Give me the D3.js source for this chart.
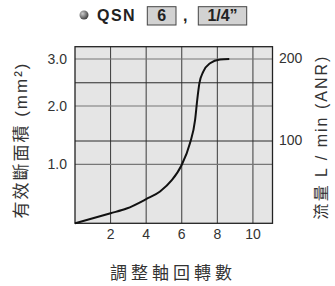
<!DOCTYPE html>
<html>
<head>
<meta charset="utf-8">
<script src="https://cdn.jsdelivr.net/npm/d3@7"></script>
<style>
  body { margin: 0; background: #fff; }
  svg { display: block; font-family: "Liberation Sans", Arial, "Noto Sans CJK TC", sans-serif; }
</style>
</head>
<body>
<div id="chart"></div>
<script>
// turns of the adjusting screw vs effective area (mm2)
var turns = [0, 2.0, 2.9, 4.0, 4.78, 5.44, 5.98, 6.46, 6.75, 6.87, 6.99, 7.21, 7.59, 8.15, 8.67];
var area  = [0, 0.17, 0.25, 0.41, 0.54, 0.73, 0.98, 1.36, 1.76, 2.13, 2.48, 2.73, 2.91, 2.99, 3.0];

var xTicks = [2, 4, 6, 8, 10];
var areaTicks = [1.0, 2.0, 3.0];
var flowTicks = [100, 200];
var flowGrid = [100, 171];

var width = 335, height = 286;

var svg = d3.select("#chart").append("svg")
    .attr("width", width)
    .attr("height", height);

// the original chart is not evenly spaced on the area axis
var x = d3.scaleLinear().domain([0, 11.1]).range([75, 272.5]);
var y = d3.scaleLinear().domain([0, 1, 2, 3, 3.26]).range([223.3, 164.3, 106, 59, 46.7]);
var yFlow = d3.scaleLinear().domain([0, 100, 200]).range([223.3, 141, 59]);

// plot background
svg.append("rect")
    .attr("x", x(0)).attr("y", y(3.26))
    .attr("width", x(11.1) - x(0)).attr("height", y(0) - y(3.26))
    .attr("fill", "#e5e5e5");

// grid
svg.selectAll(".vgrid").data(xTicks).enter().append("line")
    .attr("x1", d => x(d)).attr("x2", d => x(d))
    .attr("y1", y(3.26)).attr("y2", y(0))
    .attr("stroke", "#3a3a3a").attr("stroke-width", 1);

svg.selectAll(".fgrid").data(flowGrid).enter().append("line")
    .attr("x1", x(0)).attr("x2", x(11.1))
    .attr("y1", d => yFlow(d)).attr("y2", d => yFlow(d))
    .attr("stroke", "#2a2a2a").attr("stroke-width", 1);

svg.selectAll(".agrid").data(areaTicks).enter().append("line")
    .attr("x1", x(0)).attr("x2", x(11.1))
    .attr("y1", d => y(d)).attr("y2", d => y(d))
    .attr("stroke", "#777").attr("stroke-width", 1.2);

// frame
svg.append("rect")
    .attr("x", x(0)).attr("y", y(3.26))
    .attr("width", x(11.1) - x(0)).attr("height", y(0) - y(3.26))
    .attr("fill", "none").attr("stroke", "#222").attr("stroke-width", 1.3);

// curve
var pts = turns.map((t, i) => [t, area[i]]);
svg.append("path")
    .datum(pts)
    .attr("d", d3.line().x(d => x(d[0])).y(d => y(d[1])).curve(d3.curveMonotoneX))
    .attr("fill", "none").attr("stroke", "#111").attr("stroke-width", 2);

// tick labels
svg.selectAll(".xt").data(xTicks).enter().append("text")
    .attr("x", d => x(d)).attr("y", 239)
    .attr("text-anchor", "middle")
    .attr("font-size", 14).attr("fill", "#333")
    .text(d => d);

svg.selectAll(".yt").data(areaTicks).enter().append("text")
    .attr("x", 67).attr("y", d => y(d) + 5)
    .attr("text-anchor", "end")
    .attr("font-size", 14).attr("fill", "#333")
    .text(d => d.toFixed(1));

svg.selectAll(".ft").data(flowTicks).enter().append("text")
    .attr("x", 279).attr("y", d => yFlow(d) + 4)
    .attr("text-anchor", "start")
    .attr("font-size", 14).attr("fill", "#333")
    .text(d => d);

// axis titles
svg.append("text")
    .attr("transform", "translate(27,140) rotate(-90)")
    .attr("text-anchor", "middle")
    .attr("font-size", 17).attr("letter-spacing", 2).attr("fill", "#333")
    .text("有效斷面積 (mm²)");

svg.append("text")
    .attr("transform", "translate(327,137) rotate(-90)")
    .attr("text-anchor", "middle")
    .attr("font-size", 16).attr("letter-spacing", 2).attr("fill", "#333")
    .text("流量 L / min (ANR)");

svg.append("text")
    .attr("x", 173).attr("y", 279)
    .attr("text-anchor", "middle")
    .attr("font-size", 17).attr("letter-spacing", 4).attr("fill", "#333")
    .text("調整軸回轉數");

// title
var grad = svg.append("defs").append("radialGradient")
    .attr("id", "ball").attr("cx", "35%").attr("cy", "35%").attr("r", "65%");
grad.append("stop").attr("offset", "0%").attr("stop-color", "#ccc");
grad.append("stop").attr("offset", "100%").attr("stop-color", "#444");

svg.append("circle").attr("cx", 84).attr("cy", 15).attr("r", 4.5).attr("fill", "url(#ball)");

svg.append("text").attr("x", 97).attr("y", 21)
    .attr("font-size", 16).attr("font-weight", "bold").attr("letter-spacing", 1.5).attr("fill", "#222")
    .text("QSN");

var boxes = [["6", 147.3, 176], ["1/4\u201d", 198.3, 246.7]];
boxes.forEach(function (b) {
    svg.append("rect").attr("x", b[1]).attr("y", 6.7).attr("width", b[2] - b[1]).attr("height", 18.3)
        .attr("fill", "#d2d2d2").attr("stroke", "#444").attr("stroke-width", 1);
    svg.append("text").attr("x", (b[1] + b[2]) / 2).attr("y", 21)
        .attr("text-anchor", "middle")
        .attr("font-size", 16).attr("font-weight", "bold").attr("fill", "#222")
        .text(b[0]);
});

svg.append("text").attr("x", 183).attr("y", 21)
    .attr("font-size", 16).attr("font-weight", "bold").attr("fill", "#222")
    .text(",");
</script>
</body>
</html>
